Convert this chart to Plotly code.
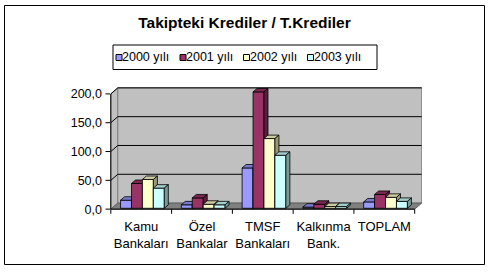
import plotly.graph_objects as go

# ---------------- data ----------------
categories = ["Kamu<br>Bankaları", "Özel<br>Bankalar", "TMSF<br>Bankaları", "Kalkınma<br>Bank.", "TOPLAM"]
series_names = ["2000 yılı", "2001 yılı", "2002 yılı", "2003 yılı"]
v2000 = [14, 6, 70, 2, 11]
v2001 = [43, 18, 202, 7, 24]
v2002 = [50, 7, 121, 3, 19]
v2003 = [35, 6, 92, 3, 12]
y_tick_vals = [0, 50, 100, 150, 200]
y_tick_text = ["0,0", "50,0", "100,0", "150,0", "200,0"]
title_text = "Takipteki Krediler / T.Krediler"

series_values = [v2000, v2001, v2002, v2003]
front_colors = ["#9999FF", "#993366", "#FFFFCC", "#CCFFFF"]


def shade(hexcol, f):
    r, g, b = int(hexcol[1:3], 16), int(hexcol[3:5], 16), int(hexcol[5:7], 16)
    return "#%02X%02X%02X" % (int(r * f), int(g * f), int(b * f))


top_colors = [shade(c, 0.8) for c in front_colors]
side_colors = [shade(c, 0.6) for c in front_colors]

# ---------------- geometry ----------------
W, H = 493, 272
ML, MR, MT, MB = 109, 71, 87, 62
PW, PH = W - ML - MR, H - MT - MB
XR = [-0.53, 4.62]
YR = [-1.5, 212.0]
n = len(categories)
x_left, x_right = -0.5, n - 0.5
DXW, DYW = 0.115, 10.5      # wall depth offset
BW = 0.18                   # bar width
FX, FY = 0.02, 1.5          # bar front setback
BDX, BDY = 0.066, 6.0       # bar depth offset
ymax = y_tick_vals[-1]


def px2paper_x(px):
    return (px - ML) / PW


def py2paper_y(py):
    return (MT + PH - py) / PH


FONT = "Arial, Liberation Sans, sans-serif"

fig = go.Figure()

shapes = []
# left wall
shapes.append(dict(type="path", xref="x", yref="y", layer="below",
                   path=f"M{x_left},0 L{x_left},{ymax} L{x_left+DXW},{ymax+DYW} L{x_left+DXW},{DYW} Z",
                   fillcolor="#C0C0C0", line=dict(color="#808080", width=1)))
# back wall
shapes.append(dict(type="rect", xref="x", yref="y", layer="below",
                   x0=x_left + DXW, x1=x_right + DXW, y0=DYW, y1=ymax + DYW,
                   fillcolor="#C0C0C0", line=dict(color="#808080", width=1)))
# floor
shapes.append(dict(type="path", xref="x", yref="y", layer="below",
                   path=f"M{x_left},0 L{x_right},0 L{x_right+DXW},{DYW} L{x_left+DXW},{DYW} Z",
                   fillcolor="#808080", line=dict(color="#606060", width=1)))
# gridlines on back + left wall
for v in y_tick_vals[1:]:
    shapes.append(dict(type="line", xref="x", yref="y", layer="below",
                       x0=x_left + DXW, x1=x_right + DXW, y0=v + DYW, y1=v + DYW,
                       line=dict(color="black", width=1)))
    shapes.append(dict(type="line", xref="x", yref="y", layer="below",
                       x0=x_left, x1=x_left + DXW, y0=v, y1=v + DYW,
                       line=dict(color="black", width=1)))

# front axis lines
shapes.append(dict(type="line", xref="x", yref="y", layer="above",
                   x0=x_left, x1=x_right, y0=0, y1=0, line=dict(color="black", width=1)))
shapes.append(dict(type="line", xref="x", yref="y", layer="above",
                   x0=x_left, x1=x_left, y0=0, y1=ymax, line=dict(color="black", width=1)))
# y ticks
for v in y_tick_vals:
    shapes.append(dict(type="line", xref="paper", yref="y", layer="above",
                       x0=px2paper_x(105.5), x1=px2paper_x(110), y0=v, y1=v,
                       line=dict(color="black", width=1)))
# x ticks at category boundaries
y0p = py2paper_y(209.3)
for k in range(n + 1):
    xb = x_left + k
    shapes.append(dict(type="line", xref="x", yref="paper", layer="above",
                       x0=xb, x1=xb, y0=y0p, y1=y0p - 4.5 / PH,
                       line=dict(color="black", width=1)))

# bars (3D columns)
for j, vals in enumerate(series_values):
    fx, fy, tx, ty, sx, sy = [], [], [], [], [], []
    for i, v in enumerate(vals):
        xl = i + (j - 2) * BW + FX
        xr = xl + BW
        y0, y1 = FY, FY + v
        fx += [xl, xr, xr, xl, xl, None]
        fy += [y0, y0, y1, y1, y0, None]
        tx += [xl, xr, xr + BDX, xl + BDX, xl, None]
        ty += [y1, y1, y1 + BDY, y1 + BDY, y1, None]
        sx += [xr, xr + BDX, xr + BDX, xr, xr, None]
        sy += [y0, y0 + BDY, y1 + BDY, y1, y0, None]
    for xs, ys, col in ((fx, fy, front_colors[j]), (tx, ty, top_colors[j]), (sx, sy, side_colors[j])):
        fig.add_trace(go.Scatter(x=xs, y=ys, mode="lines", fill="toself", fillcolor=col,
                                 line=dict(color="black", width=0.8), hoverinfo="skip",
                                 showlegend=False, name=series_names[j]))

# legend (manual)
lx0, lx1, ly0, ly1 = 113, 377, 45, 69.5
shapes.append(dict(type="rect", xref="paper", yref="paper",
                   x0=px2paper_x(lx0), x1=px2paper_x(lx1), y0=py2paper_y(ly1), y1=py2paper_y(ly0),
                   line=dict(color="black", width=1), fillcolor="white"))
annotations = []
item_x = [116, 180, 243.5, 307.5]
for j, name in enumerate(series_names):
    sx0 = item_x[j]
    shapes.append(dict(type="rect", xref="paper", yref="paper",
                       x0=px2paper_x(sx0), x1=px2paper_x(sx0 + 6),
                       y0=py2paper_y(60.5), y1=py2paper_y(54.5),
                       line=dict(color="black", width=1), fillcolor=front_colors[j]))
    annotations.append(dict(xref="paper", yref="paper", x=px2paper_x(sx0 + 5), y=py2paper_y(57.3),
                            text=name, showarrow=False, xanchor="left", yanchor="middle",
                            borderpad=0,
                            font=dict(family=FONT, size=12.5, color="black")))

# outer frame
shapes.append(dict(type="rect", xref="paper", yref="paper",
                   x0=px2paper_x(4.5), x1=px2paper_x(484.5), y0=py2paper_y(264.5), y1=py2paper_y(5.5),
                   line=dict(color="black", width=1)))

fig.update_layout(
    width=W, height=H,
    margin=dict(l=ML, r=MR, t=MT, b=MB),
    paper_bgcolor="white", plot_bgcolor="white",
    showlegend=False,
    title=dict(text=f"<b>{title_text}</b>", x=244.5 / W, xref="container", xanchor="center",
               y=1 - 22.5 / H, yref="container", yanchor="middle",
               font=dict(family=FONT, size=15.5, color="black")),
    xaxis=dict(range=XR, showgrid=False, zeroline=False, showline=False, ticks="",
               tickmode="array", tickvals=list(range(n)), ticktext=categories,
               tickfont=dict(family=FONT, size=13, color="black"), ticklabelstandoff=7,
               fixedrange=True),
    yaxis=dict(range=YR, showgrid=False, zeroline=False, showline=False, ticks="",
               tickmode="array", tickvals=y_tick_vals, ticktext=y_tick_text,
               tickfont=dict(family=FONT, size=12.5, color="black"), ticklabelstandoff=6,
               fixedrange=True),
    shapes=shapes, annotations=annotations,
)

fig.write_html("out.html")
